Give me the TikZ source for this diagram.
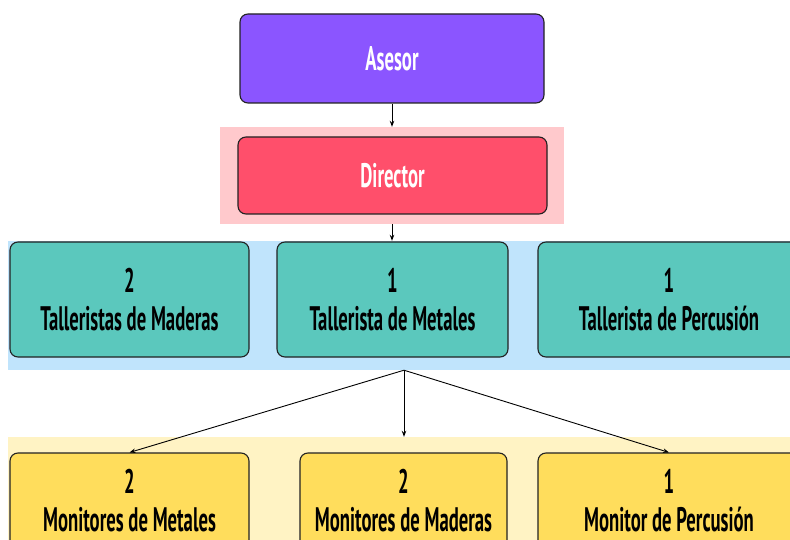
\documentclass[tikz,border=0pt]{standalone}
\usepackage{fontspec}
\setmainfont{PT Sans}[FakeStretch=0.55]
\usetikzlibrary{arrows.meta}
\definecolor{cAses}{HTML}{8B55FF}
\definecolor{cDir}{HTML}{FF4F6B}
\definecolor{cDirBg}{HTML}{FFC9CC}
\definecolor{cBlue}{HTML}{C0E4FC}
\definecolor{cTeal}{HTML}{5BC8BD}
\definecolor{cYelBg}{HTML}{FFF3C4}
\definecolor{cYel}{HTML}{FFDD5C}
\definecolor{cEdge}{HTML}{222222}
\tikzset{
  box/.style={draw=cEdge, line width=1.1pt, rounded corners=8pt, inner sep=0pt,
    align=center, font=\fontsize{34}{38}\selectfont\bfseries},
  band/.style={inner sep=0pt, draw=none},
  conn/.style={draw=black, line width=0.9pt, -{Stealth[length=6pt,width=4.5pt]}}
}
\begin{document}
\begin{tikzpicture}[x=1pt,y=-1pt]
\useasboundingbox (0,0) rectangle (790,540);
\clip (0,0) rectangle (790,540);
% bands
\node[band, fill=cDirBg, minimum width=344pt, minimum height=97pt] (dirbg) at (392,175.5) {};
\node[band, fill=cBlue, minimum width=792pt, minimum height=129pt] (band1) at (404,305.5) {};
\node[band, fill=cYelBg, minimum width=792pt, minimum height=123pt] (band2) at (404,498.5) {};
% top boxes
\node[box, fill=cAses, text=white, minimum width=304pt, minimum height=89pt] (asesor) at (392,58.5) {Asesor};
\node[box, fill=cDir, text=white, minimum width=309pt, minimum height=77pt] (director) at (392.5,175.5) {Director};
% teal row
\node[box, fill=cTeal, minimum width=239pt, minimum height=115pt] (t1) at (129.5,299.5) {2\\Talleristas de Maderas};
\node[box, fill=cTeal, minimum width=231pt, minimum height=115pt] (t2) at (392.5,299.5) {1\\Tallerista de Metales};
\node[box, fill=cTeal, minimum width=262pt, minimum height=115pt] (t3) at (669,299.5) {1\\Tallerista de Percusión};
% yellow row
\node[box, fill=cYel, minimum width=239pt, minimum height=95pt] (y1) at (129.5,500.5) {2\\Monitores de Metales};
\node[box, fill=cYel, minimum width=207pt, minimum height=95pt] (y2) at (403.5,500.5) {2\\Monitores de Maderas};
\node[box, fill=cYel, minimum width=262pt, minimum height=95pt] (y3) at (669,500.5) {1\\Monitor de Percusión};
% connectors
\draw[conn] (asesor.south) -- (asesor.south |- dirbg.north);
\draw[conn] (dirbg.south) -- (dirbg.south |- band1.north);
\draw[conn] (band1.south) -- (y1.north);
\draw[conn] (band1.south) -- (band2.north);
\draw[conn] (band1.south) -- (y3.north);
\end{tikzpicture}
\end{document}
